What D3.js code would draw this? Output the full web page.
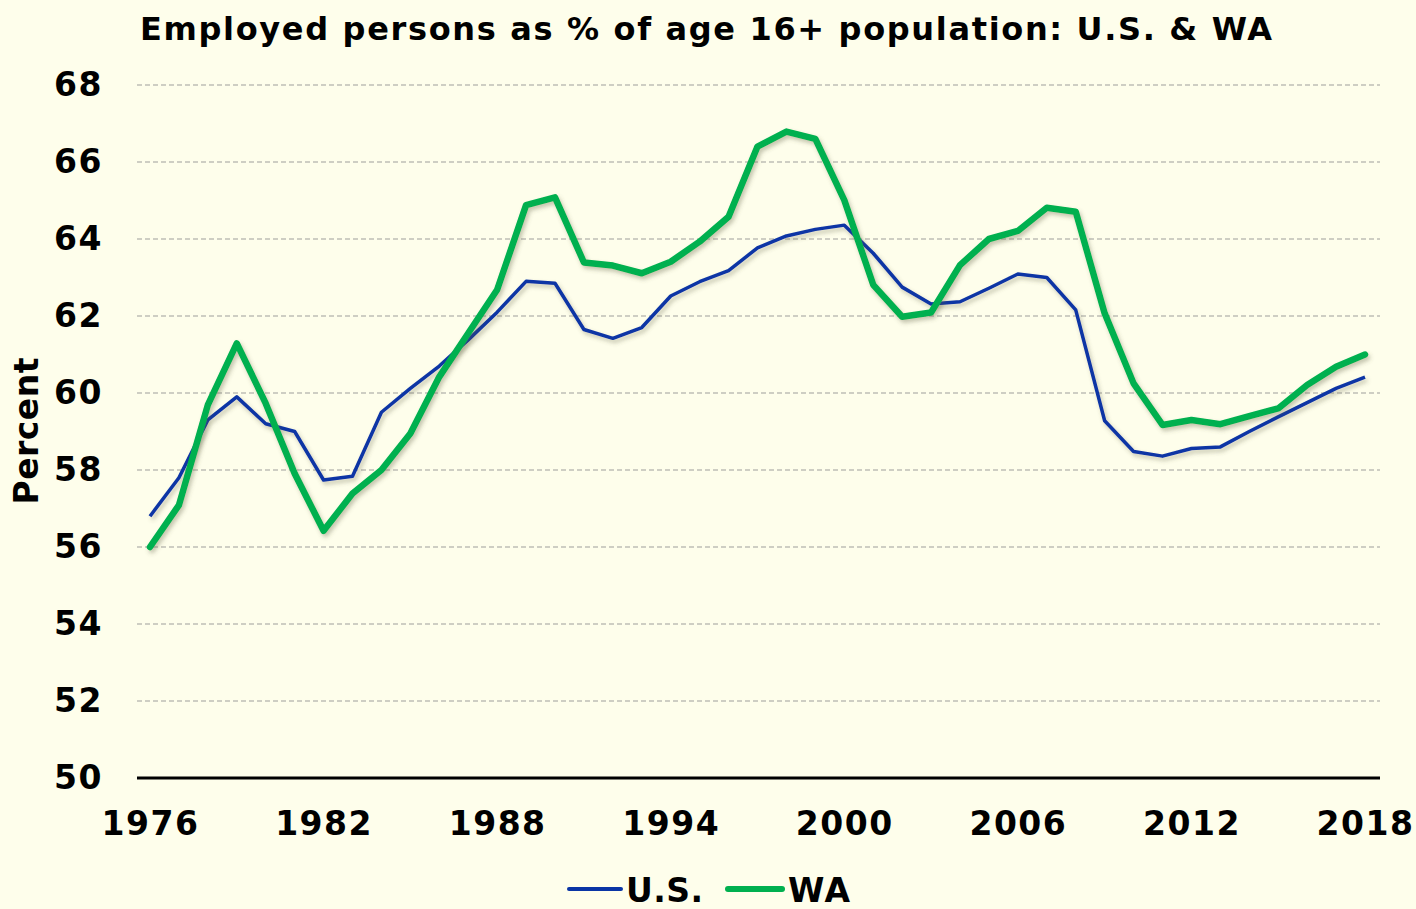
<!DOCTYPE html>
<html>
<head>
<meta charset="utf-8">
<script src="https://cdn.jsdelivr.net/npm/d3@7"></script>
<style>
  html, body { margin: 0; padding: 0; background: #fefeeb; }
  svg { display: block; font-family: "DejaVu Sans", Verdana, sans-serif; font-weight: bold; }
</style>
</head>
<body>
<svg id="chart" width="1416" height="909"></svg>
<script>
// Data
var years = d3.range(1976, 2019);
var usValues = [56.8, 57.8, 59.3, 59.9, 59.2, 59.0, 57.74, 57.84, 59.5, 60.12, 60.7, 61.38, 62.1, 62.9,
  62.85, 61.65, 61.42, 61.7, 62.52, 62.89, 63.18, 63.77, 64.08, 64.25, 64.36, 63.63, 62.75, 62.31,
  62.37, 62.72, 63.09, 63.0, 62.16, 59.28, 58.48, 58.36, 58.56, 58.6, 59.0, 59.38, 59.75, 60.12, 60.41];
var waValues = [56.0, 57.09, 59.69, 61.29, 59.73, 57.91, 56.42, 57.39, 58.0, 58.95, 60.42, 61.55, 62.68, 64.88,
  65.08, 63.39, 63.31, 63.11, 63.41, 63.93, 64.58, 66.4, 66.79, 66.6, 65.01, 62.81, 61.98, 62.09,
  63.32, 64.0, 64.21, 64.81, 64.71, 62.07, 60.25, 59.17, 59.3, 59.19, 59.4, 59.6, 60.21, 60.68, 61.0];
var xTicks = [1976, 1982, 1988, 1994, 2000, 2006, 2012, 2018];
var yTicks = [50, 52, 54, 56, 58, 60, 62, 64, 66, 68];
var seriesNames = ["U.S.", "WA"];

var svg = d3.select("#chart");
var width = 1416, height = 909;

svg.append("rect").attr("width", width).attr("height", height).attr("fill", "#fefeeb");

// Shadow filter
var defs = svg.append("defs");
var f = defs.append("filter").attr("id", "shadow").attr("x", "-5%").attr("y", "-5%").attr("width", "110%").attr("height", "120%");
f.append("feDropShadow").attr("dx", 2).attr("dy", 3).attr("stdDeviation", 2)
  .attr("flood-color", "#5a5a3a").attr("flood-opacity", 0.35);

var x = d3.scaleLinear().domain([1976, 2018]).range([150, 1365]);
var y = d3.scaleLinear().domain([50, 68]).range([778, 85]);

// Gridlines
svg.append("g")
  .selectAll("line")
  .data(yTicks.filter(function(d) { return d > 50; }))
  .join("line")
  .attr("x1", 137).attr("x2", 1380)
  .attr("y1", function(d) { return y(d); })
  .attr("y2", function(d) { return y(d); })
  .attr("stroke", "#bebeb6")
  .attr("stroke-width", 1.5)
  .attr("stroke-dasharray", "5,3");

// Y axis labels
var yAxis = svg.append("g")
  .attr("transform", "translate(103,0)")
  .call(d3.axisLeft(y).tickValues(yTicks).tickSize(0).tickPadding(0).tickFormat(d3.format("d")));
yAxis.select(".domain").remove();
yAxis.selectAll("text")
  .attr("font-family", "DejaVu Sans, Verdana, sans-serif")
  .attr("font-weight", "bold")
  .attr("font-size", 33)
  .attr("letter-spacing", 1.5)
  .attr("fill", "#000");

// X axis
var xAxis = svg.append("g")
  .attr("transform", "translate(0,778)")
  .call(d3.axisBottom(x).tickValues(xTicks).tickSize(0).tickPadding(34).tickFormat(d3.format("d")));
xAxis.select(".domain").remove();
xAxis.selectAll("text")
  .attr("font-family", "DejaVu Sans, Verdana, sans-serif")
  .attr("font-weight", "bold")
  .attr("font-size", 33)
  .attr("letter-spacing", 1.5)
  .attr("fill", "#000");

svg.append("line")
  .attr("x1", 137).attr("x2", 1380)
  .attr("y1", y(50)).attr("y2", y(50))
  .attr("stroke", "#000").attr("stroke-width", 3);

// Lines
var line = d3.line()
  .x(function(d) { return x(d[0]); })
  .y(function(d) { return y(d[1]); });

svg.append("path")
  .datum(d3.zip(years, usValues))
  .attr("d", line)
  .attr("fill", "none")
  .attr("stroke", "#0a35a5")
  .attr("stroke-width", 3.5)
  .attr("stroke-linejoin", "round")
  .attr("filter", "url(#shadow)");

svg.append("path")
  .datum(d3.zip(years, waValues))
  .attr("d", line)
  .attr("fill", "none")
  .attr("stroke", "#00b04f")
  .attr("stroke-width", 6.5)
  .attr("stroke-linejoin", "round")
  .attr("stroke-linecap", "round")
  .attr("filter", "url(#shadow)");

// Title
svg.append("text")
  .attr("x", 706).attr("y", 40)
  .attr("text-anchor", "middle")
  .attr("font-size", 32)
  .attr("textLength", 1132)
  .attr("lengthAdjust", "spacing")
  .text("Employed persons as % of age 16+ population: U.S. & WA");

// Y label
svg.append("text")
  .attr("transform", "translate(38,431) rotate(-90)")
  .attr("text-anchor", "middle")
  .attr("font-size", 33)
  .attr("textLength", 147)
  .attr("lengthAdjust", "spacing")
  .text("Percent");

// Legend
var legend = svg.append("g");
legend.append("line").attr("x1", 569).attr("x2", 621).attr("y1", 889).attr("y2", 889)
  .attr("stroke", "#0a35a5").attr("stroke-width", 4).attr("stroke-linecap", "round");
legend.append("text").attr("x", 626).attr("y", 902).attr("font-size", 33)
  .attr("textLength", 77).attr("lengthAdjust", "spacing").text(seriesNames[0]);
legend.append("line").attr("x1", 728).attr("x2", 782).attr("y1", 889).attr("y2", 889)
  .attr("stroke", "#00b04f").attr("stroke-width", 6).attr("stroke-linecap", "round");
legend.append("text").attr("x", 788).attr("y", 902).attr("font-size", 33)
  .attr("textLength", 62).attr("lengthAdjust", "spacing").text(seriesNames[1]);
</script>
</body>
</html>
